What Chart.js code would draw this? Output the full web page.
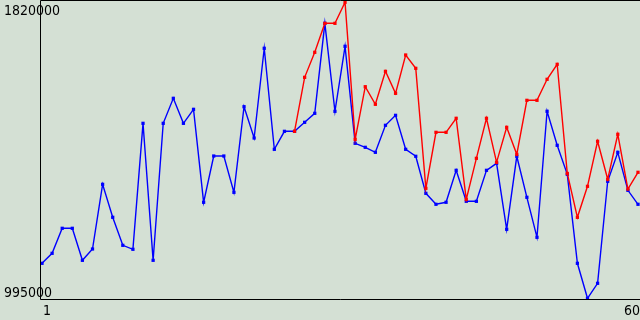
<!DOCTYPE html>
<html>
<head>
<meta charset="utf-8">
<script src="https://cdn.jsdelivr.net/npm/chart.js@4/dist/chart.umd.min.js"></script>
<style>
html,body{margin:0;padding:0;background:#d4e0d4;}
#wrap{width:640px;height:320px;position:relative;}
</style>
</head>
<body>
<div id="wrap"><canvas id="c" width="640" height="320"></canvas></div>
<script>
const categories = Array.from({length: 60}, (_, i) => i + 1);
const blueValues = [1092500,1120400,1190100,1190100,1100900,1132400,1312700,1220800,1142700,1131600,
  1482700,1100900,1482700,1552400,1482700,1521700,1262600,1391600,1391600,1290400,
  1529000,1441800,1691800,1410300,1460400,1460400,1485500,1510600,1761400,1516200,
  1697300,1427000,1415800,1401900,1477200,1505000,1410300,1390800,1287600,1257000,
  1262600,1351700,1265300,1265300,1351700,1371200,1187300,1390800,1276500,1165000,
  1516200,1421400,1340600,1092500,995000,1036800,1321100,1401900,1296000,1257000];
const redValues = [null,null,null,null,null,null,null,null,null,null,
  null,null,null,null,null,null,null,null,null,null,
  null,null,null,null,null,1460400,1610900,1680600,1761400,1761400,
  1820000,1438100,1584700,1535700,1627600,1566300,1673100,1636000,1301600,1457600,
  1457600,1496700,1270900,1385200,1496700,1374000,1471600,1396300,1546800,1546800,
  1605400,1647200,1343000,1220700,1307100,1432600,1326700,1452100,1299600,1346200];
const yTickLabels = ["995000", "1820000"];
const xTickLabels = ["1", "60"];

const FONT = '14px "DejaVu Sans Condensed", "DejaVu Sans", sans-serif';

const framePlugin = {
  id: 'frame',
  beforeDraw(chart) {
    const ctx = chart.ctx;
    ctx.save();
    ctx.fillStyle = '#d4e0d4';
    ctx.fillRect(0, 0, chart.width, chart.height);
    ctx.restore();
  },
  afterDraw(chart) {
    const ctx = chart.ctx;
    const a = chart.chartArea;
    const xs = chart.scales.x, ys = chart.scales.y;
    ctx.save();
    ctx.strokeStyle = '#000';
    ctx.lineWidth = 1;
    ctx.beginPath();
    ctx.moveTo(a.right, a.top + 0.5);
    ctx.lineTo(a.left + 0.5, a.top + 0.5);
    ctx.lineTo(a.left + 0.5, a.bottom + 0.5);
    ctx.lineTo(a.right, a.bottom + 0.5);
    ctx.stroke();
    ctx.fillStyle = '#000';
    ctx.font = FONT;
    ctx.textBaseline = 'alphabetic';
    ctx.textAlign = 'left';
    ctx.fillText(yTickLabels[1], 4, ys.getPixelForValue(Number(yTickLabels[1])) + 13);
    ctx.fillText(yTickLabels[0], 4, ys.getPixelForValue(Number(yTickLabels[0])) - 1);
    ctx.textAlign = 'center';
    ctx.fillText(xTickLabels[0], xs.getPixelForValue(Number(xTickLabels[0])) + 5, a.bottom + 16);
    ctx.textAlign = 'right';
    ctx.fillText(xTickLabels[1], a.right, a.bottom + 16);
    ctx.restore();
  }
};

const pxPerUnitY = 825000 / 296;
new Chart(document.getElementById('c'), {
  type: 'line',
  data: {
    labels: categories,
    datasets: [
      {
        data: categories.map((c, i) => ({x: c, y: redValues[i]})),
        borderColor: '#ff0000', backgroundColor: '#ff0000',
        borderWidth: 1.4, pointStyle: 'rect', pointRadius: 2.3, pointBorderWidth: 0,
        tension: 0, spanGaps: false, clip: false
      },
      {
        data: categories.map((c, i) => ({x: c, y: blueValues[i]})),
        borderColor: '#0000ff', backgroundColor: '#0000ff',
        borderWidth: 1.4, pointStyle: 'rect', pointRadius: 2.3, pointBorderWidth: 0,
        tension: 0, clip: false
      }
    ]
  },
  options: {
    responsive: false,
    devicePixelRatio: 1,
    animation: false,
    events: [],
    layout: {autoPadding: false, padding: {left: 40, top: 0, right: 0, bottom: 21}},
    plugins: {legend: {display: false}, tooltip: {enabled: false}},
    scales: {
      x: {type: 'linear', display: false, min: 1 - 2 / 10.1, max: 60 + 2 / 10.1},
      y: {type: 'linear', display: false, min: 995000 - 0.7 * pxPerUnitY, max: 1820000 + 2.3 * pxPerUnitY}
    }
  },
  plugins: [framePlugin]
});
</script>
</body>
</html>
